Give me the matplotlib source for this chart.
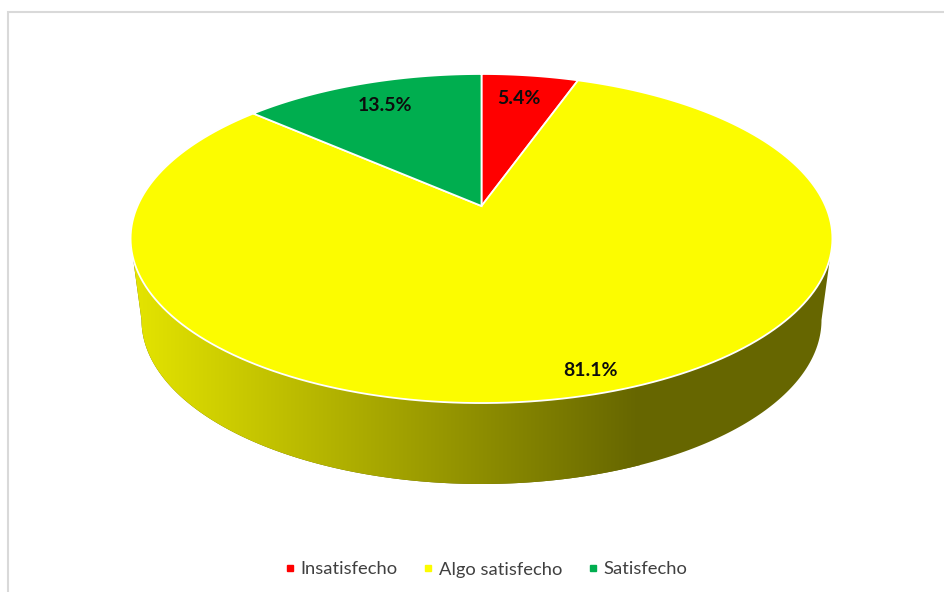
import numpy as np
import matplotlib
matplotlib.use('Agg')
import matplotlib.pyplot as plt
from matplotlib.lines import Line2D
from matplotlib.patches import Polygon

plt.rcParams['font.family'] = ['Lato', 'DejaVu Sans']

categories = ['Insatisfecho', 'Algo satisfecho', 'Satisfecho']
values = [5.4, 81.1, 13.5]
colors = ['#FF0000', '#FCFC00', '#00AE4F']
label_texts = ['5.4%', '81.1%', '13.5%']

W, H = 944, 592
CX = 481.5
K = 344.0           # horizontal radius before perspective
P = 0.1976          # perspective strength
A, B = -117.4, 206  # vertical mapping, B is the pie centre in pixels


def project(theta):
    # theta in radians, clockwise from 12 o'clock, tilted circle to pixels
    u, v = np.sin(theta), np.cos(theta)
    d = 1 + P * v
    return CX + K * u / d, (A * v + B) / d


fig = plt.figure(figsize=(W / 100, H / 100), dpi=100)
ax = fig.add_axes([0, 0, 1, 1])
ax.axis('off')

# outer chart frame
ax.plot([8, 8, W], [H, 12, 12], color='#D9D9D9', lw=1.5, solid_joinstyle='miter')

# side wall, gradient clipped to the outline of the lower rim
t = np.linspace(np.pi, 0, 200)
wall_x = np.r_[133, CX + 340 * np.cos(t), 830]
wall_y = np.r_[258, 320 + 164 * np.sin(t), 258]
wall = Polygon(np.c_[wall_x, wall_y], closed=True, fc='none', ec='none')
ax.add_patch(wall)

ramp = np.clip(np.linspace(228, 102, 507), 102, 228) / 255
shade = np.zeros((1, 507, 3))
shade[0, :, 0] = ramp
shade[0, :, 1] = ramp
im = ax.imshow(shade, extent=[134, 640, 500, 240], aspect='auto', zorder=2)
im.set_clip_path(wall)
right_part = Polygon(np.c_[wall_x, wall_y], closed=True, fc='#666600', ec='none', zorder=1)
ax.add_patch(right_part)

# top face, slices clockwise from 12 o'clock
start = 0.0
for value, color in zip(values, colors):
    end = start + value / sum(values) * 2 * np.pi
    th = np.linspace(start, end, 200)
    x, y = project(th)
    ax.fill(np.r_[CX, x], np.r_[B, y], fc=color, ec='white', lw=1.3,
            joinstyle='miter', zorder=3)
    start = end

# data labels
ax.text(519, 98.5, label_texts[0], ha='center', va='center', fontsize=14,
        fontweight='bold', color='#0D0D0D', zorder=4)
ax.text(590, 370.5, label_texts[1], ha='center', va='center', fontsize=14,
        fontweight='bold', color='#0D0D0D', zorder=4)
ax.text(385, 105.5, label_texts[2], ha='center', va='center', fontsize=14,
        fontweight='bold', color='#0D0D0D', zorder=4)

ax.set_xlim(0, W)
ax.set_ylim(H, 0)

handles = [Line2D([], [], ls='none', marker='s', ms=5, mfc=c, mec=c) for c in colors]
fig.legend(handles, categories, ncol=3, loc='center', bbox_to_anchor=(483.5 / W, 1 - 569.5 / H),
           frameon=False, fontsize=13.2, labelcolor='#404040', handletextpad=0.0,
           columnspacing=1.1, handlelength=1.15, borderpad=0)

fig.savefig('out.png', dpi=100, facecolor='white')
